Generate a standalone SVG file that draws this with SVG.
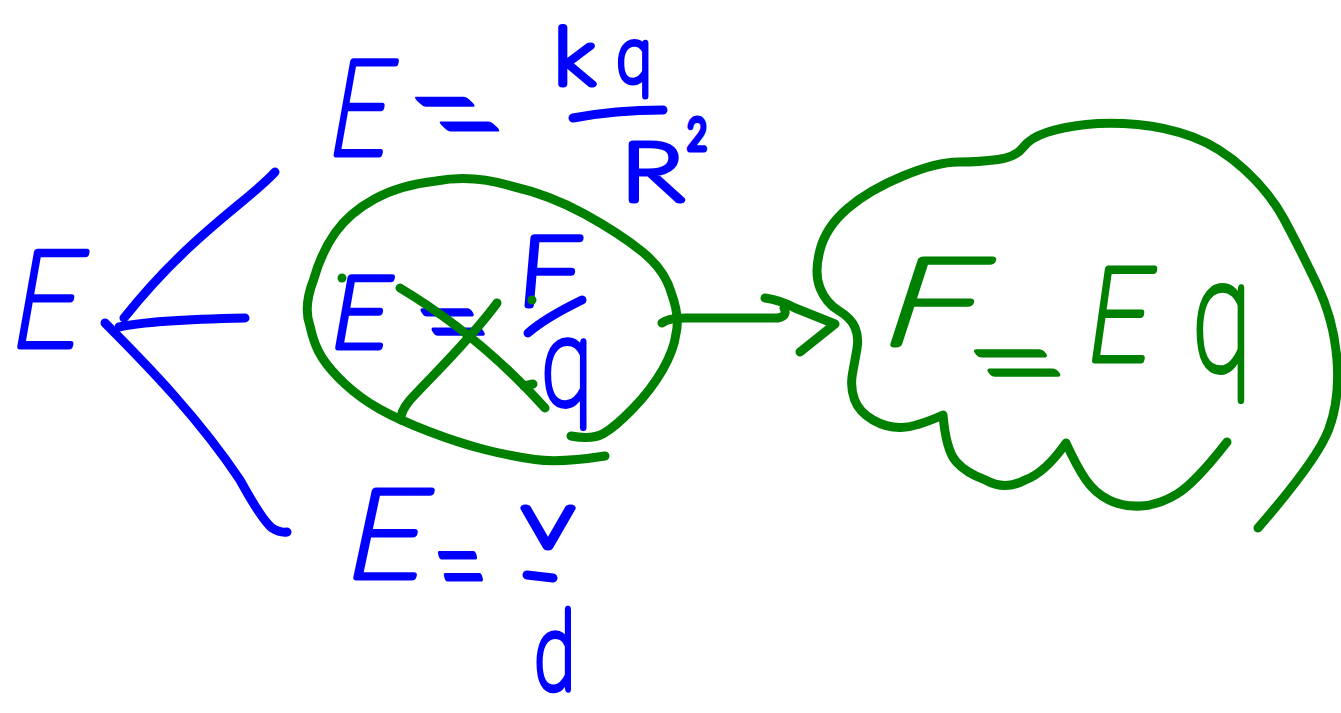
<svg xmlns="http://www.w3.org/2000/svg" width="1341" height="713" viewBox="0 0 1341 713">
<style>
.t{font-family:Lato,"Liberation Sans",sans-serif;font-weight:100;stroke-width:7;stroke-linejoin:round;text-anchor:middle}
.b{fill:#0000ff;stroke:#0000ff}
.g{fill:#008000;stroke:#008000}
.s{fill:none;stroke-width:9;stroke-linecap:round;stroke-linejoin:round}
.sb{stroke:#0000ff}
.sg{stroke:#008000}
</style>
<rect width="1341" height="713" fill="#ffffff"/>
<g id="connectors">
<path class="s sb" d="M275,172 C250,200 190,235 124,318"/>
<path class="s sb" d="M119,327 Q150,320 245,318"/>
<path class="s sb" d="M105,323 C150,368 200,420 240,480 Q262,520 272,528 Q280,533 287,532"/>
<path class="s sg" d="M662,323 Q668,318 685,318 L778,318 Q788,316 784,308"/>
<path class="s sg" d="M765,298 Q780,300 795,308 L835,324 L800,352"/>
</g>
<g id="node-E">
<text class="t b" font-size="134" transform="translate(41.5,346) skewX(-10) scale(0.9,1)">E</text>
</g>
<g id="node-coulomb">
<text class="t b" font-size="132" transform="translate(355,154) skewX(-10) scale(0.8,1)">E</text>
<text class="t b" font-size="140" transform="translate(514,171) skewX(45) scale(0.85,1.2)">=</text>
<text class="t b" font-size="78" transform="translate(574,84) scale(1.15,1)">k</text>
<text class="t b" font-size="80" transform="translate(634,82) scale(0.8,1)">q</text>
<path class="s sb" d="M573,118 Q615,110 663,110"/>
<text class="t b" font-size="81" transform="translate(652,199.5) scale(1.3,1)">R</text>
<text class="t b" font-size="42" transform="translate(697,148.5) scale(0.8,1)">2</text>
</g>
<g id="node-force">
<path class="s sg" d="M571,436 Q592,440 603.5,433.5 Q615,427 633,408.5 Q651,390 662.5,370 Q674,350 676,333.5 Q680,317 671.5,293.5 Q665,270 642,251.5 Q619,233 584.5,214 Q550,195 511,186 Q472,174 436,181 Q400,185 374.5,199 Q349,213 335,233 Q321,253 313.5,280 Q303,307 310,326 Q314,345 322,357.5 Q330,370 345,384 Q360,398 379.5,409 Q399,420 429,431.5 Q459,443 484.5,449.5 Q510,456 535,459.5 Q560,463 605,456"/>
<text class="t b" font-size="99" transform="translate(356,346.5) skewX(-10)">E</text>
<text class="t b" font-size="130" transform="translate(478,366) skewX(30) scale(0.87,1)">=</text>
<text class="t b" font-size="96" transform="translate(547,304.5) skewX(-5) scale(1.15,1)">F</text>
<path class="s sb" d="M528,333 Q545,318 582,300"/>
<text class="t b" font-size="120" transform="translate(567,404) scale(0.78,1.05)">q</text>
<path class="s sg" d="M400,288 C450,318 500,358 545,408"/>
<path class="s sg" d="M497,303 C470,340 430,378 410,400 Q400,412 401,420"/>
<path class="s sg" d="M524,386 L533,384"/>
<circle cx="342" cy="278" r="4.5" fill="#008000"/>
<circle cx="532" cy="300" r="4.5" fill="#008000"/>
</g>
<g id="node-voltage">
<text class="t b" font-size="123" transform="translate(381,576.5) skewX(-12) scale(1.1,1)">E</text>
<text class="t b" font-size="150" transform="translate(474,617) skewX(15) scale(0.57,1)">=</text>
<text class="t b" font-size="55" transform="translate(548,546.5) scale(1.4,1)">V</text>
<path class="s sb" d="M527,575 L553,578"/>
<text class="t b" font-size="100" transform="translate(555,689) scale(0.75,1.1)">d</text>
</g>
<g id="node-cloud">
<path class="s sg" d="M1258,528 Q1317,460 1328.5,430 Q1340,400 1337,360 Q1334,320 1316.5,283.5 Q1299,247 1284.5,220 Q1270,193 1245,170 Q1220,147 1193,137 Q1166,127 1137.5,124.5 Q1109,122 1086,124.5 Q1063,127 1046.5,132.5 Q1030,138 1023,147.5 Q1016,157 998,159.5 Q980,162 958.5,162 Q937,162 903,176 Q869,190 847.5,208.5 Q826,227 820,250 Q814,273 820,288 Q826,303 838.5,310.5 Q851,318 855,327.5 Q859,337 857,348.5 Q855,360 852.5,373.5 Q850,387 854.5,399.5 Q859,412 873,420 Q887,428 901.5,427.5 Q916,427 943,415 Q946,450 956,461.5 Q966,473 985.5,480 Q1005,491 1025,480 Q1045,473 1066,443 Q1077,467 1086,480 Q1095,493 1109,500 Q1123,507 1141,506 Q1159,505 1177,494 Q1195,483 1227,442"/>
<text class="t g" font-size="120" transform="translate(923,343.5) skewX(-18) scale(1.4,1)">F</text>
<text class="t g" font-size="130" transform="translate(1048,407) skewX(35) scale(1.2,1)">=</text>
<text class="t g" font-size="130" transform="translate(1115,359.5) skewX(-8) scale(0.87,1)">E</text>
<text class="t g" font-size="145" transform="translate(1222,369.5) scale(0.75,1.15)">q</text>
</g>
</svg>
